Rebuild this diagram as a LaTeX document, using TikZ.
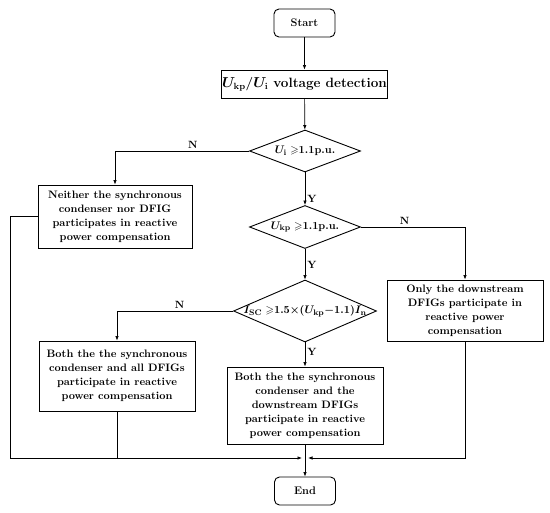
\documentclass[tikz,border=0pt]{standalone}
\usepackage{amssymb}
\usetikzlibrary{shapes.geometric,arrows.meta}
\tikzset{
	procbox/.style={draw,line width=0.9pt,align=center,inner sep=1pt,font=\fontsize{10.8}{14}\selectfont\bfseries\boldmath},
	termbox/.style={draw,rounded corners=5pt,line width=0.9pt,minimum width=61pt,minimum height=28pt,inner sep=0pt,font=\fontsize{11}{13}\selectfont\bfseries},
	decbox/.style={draw,diamond,line width=0.9pt,inner sep=0pt,font=\fontsize{10.8}{13}\selectfont\bfseries\boldmath},
	conn/.style={line width=0.7pt},
	arr/.style={line width=0.7pt,-{Latex[length=4.5pt,width=3.5pt]}},
	yn/.style={font=\fontsize{10.5}{12}\selectfont\bfseries,inner sep=2pt}
}
\begin{document}
\begin{tikzpicture}[x=1pt,y=-1pt]
		\useasboundingbox (0,0) rectangle (550,513);
		% terminals and steps
		\node[termbox] (start) at (304.5,23) {Start};
		\node[procbox,minimum width=165pt,minimum height=28pt,font=\fontsize{13.5}{15}\selectfont\bfseries\boldmath] (detect) at (304.5,84) {$U_{\mathrm{kp}}$/$U_{\mathrm{i}}$ voltage detection};
		\node[decbox,minimum width=111pt,minimum height=42pt] (chk1) at (305,151) {\makebox[0pt]{$U_{\mathrm{i}}\geqslant$1.1p.u.}};
		\node[procbox,minimum width=154pt,minimum height=63pt] (neither) at (115,216.5) {Neither the synchronous\\condenser nor DFIG\\participates in reactive\\power compensation};
		\node[decbox,minimum width=111pt,minimum height=43pt] (chk2) at (305,227) {\makebox[0pt]{$U_{\mathrm{kp}}\geqslant$1.1p.u.}};
		\node[procbox,minimum width=156pt,minimum height=61pt] (only) at (465,310.5) {Only the downstream\\DFIGs participate in\\reactive power\\compensation};
		\node[decbox,minimum width=143pt,minimum height=62pt] (chk3) at (305,311) {\makebox[0pt]{$I_{\mathrm{SC}}\geqslant$1.5$\times$($U_{\mathrm{kp}}-$1.1)$I_{\mathrm{n}}$}};
		\node[procbox,minimum width=156pt,minimum height=70pt] (allfig) at (117,376) {Both the the synchronous\\condenser and all DFIGs\\participate in reactive\\power compensation};
		\node[procbox,minimum width=156pt,minimum height=77pt] (downfig) at (305,405.5) {Both the the synchronous\\condenser and the\\downstream DFIGs\\participate in reactive\\power compensation};
		\node[termbox] (end) at (305,491) {End};
		\coordinate (joinl) at (302,458);
		\coordinate (joinr) at (308,458);
		% connectors
		\draw[arr] (start) -- (detect);
		\draw[arr] (detect) -- (chk1);
		\draw[arr] (chk1.west) -| node[yn,pos=0.21,above]{N} (neither.north);
		\draw[arr] (chk1.south) -- node[yn,pos=0.8,right]{Y} (chk2.north);
		\draw[arr] (chk2.east) -| node[yn,pos=0.21,above]{N} (only.north);
		\draw[arr] (chk2.south) -- node[yn,pos=0.53,right]{Y} (chk3.north);
		\draw[arr] (chk3.west) -| node[yn,pos=0.23,above]{N} (allfig.north);
		\draw[arr] (chk3.south) -- node[yn,pos=0.4,right]{Y} (downfig.north);
		\draw[arr] (neither.west) -- ++(-27,0) |- (joinl);
		\draw[conn] (allfig.south) -- (allfig.south |- joinl);
		\draw[arr] (only.south) |- (joinr);
		\draw[arr] (downfig.south) -- (end.north);
\end{tikzpicture}
\end{document}
